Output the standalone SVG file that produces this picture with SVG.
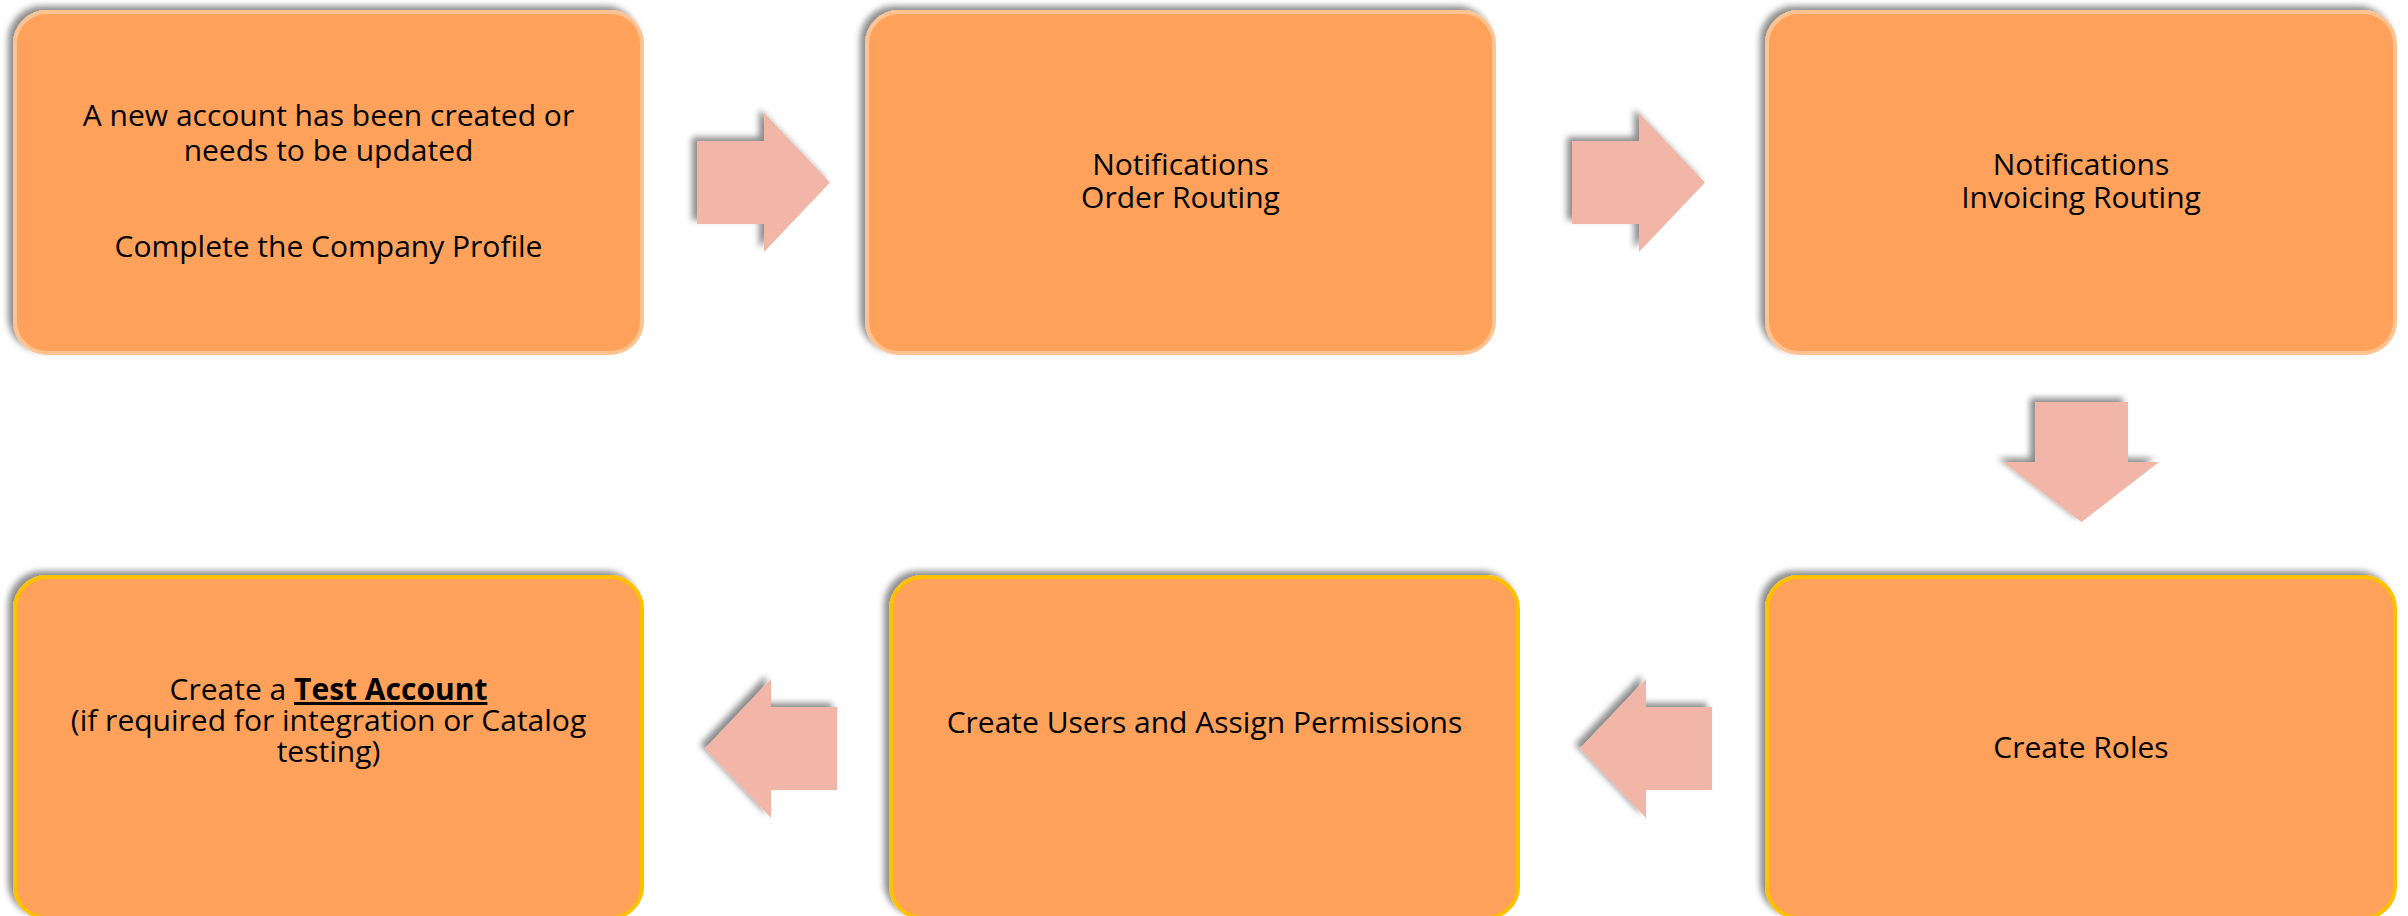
<svg xmlns="http://www.w3.org/2000/svg" width="2408" height="916" viewBox="0 0 2408 916">
  <style>
    .box { fill: #FEA15A; stroke-width: 4; }
    .top { stroke: #FFC391; }
    .bot { stroke: #FFC000; }
    .arrow { fill: #F1B6A7; }
    text { font-family: "Open Sans", "Liberation Sans", sans-serif; font-size: 30px; fill: #000; text-anchor: middle; }
  </style>
  <defs>
    <filter id="sh" x="-10%" y="-10%" width="120%" height="120%">
      <feGaussianBlur in="SourceAlpha" stdDeviation="3"/>
      <feOffset dx="-5" dy="-4" result="b"/>
      <feFlood flood-color="#000" flood-opacity="0.45"/>
      <feComposite in2="b" operator="in"/>
      <feMerge><feMergeNode/><feMergeNode in="SourceGraphic"/></feMerge>
    </filter>
  </defs>
  <rect width="2408" height="916" fill="#fff"/>

  <g id="node-new-account">
    <rect class="box top" x="15" y="12" width="627" height="341" rx="32" filter="url(#sh)"/>
    <text x="328.5" y="126">A new account has been created or</text>
    <text x="328.5" y="161">needs to be updated</text>
    <text x="328.5" y="257">Complete the Company Profile</text>
  </g>

  <g id="node-order-routing">
    <rect class="box top" x="867" y="12" width="627" height="341" rx="32" filter="url(#sh)"/>
    <text x="1180.5" y="175">Notifications</text>
    <text x="1180.5" y="208">Order Routing</text>
  </g>

  <g id="node-invoicing-routing">
    <rect class="box top" x="1767" y="12" width="628" height="341" rx="32" filter="url(#sh)"/>
    <text x="2081" y="175">Notifications</text>
    <text x="2081" y="208">Invoicing Routing</text>
  </g>

  <g id="node-create-roles">
    <rect class="box bot" x="1767" y="577" width="628" height="341" rx="32" filter="url(#sh)"/>
    <text x="2081" y="758">Create Roles</text>
  </g>

  <g id="node-create-users">
    <rect class="box bot" x="891" y="577" width="627" height="341" rx="32" filter="url(#sh)"/>
    <text x="1204.5" y="733">Create Users and Assign Permissions</text>
  </g>

  <g id="node-test-account">
    <rect class="box bot" x="15" y="577" width="627" height="341" rx="32" filter="url(#sh)"/>
    <text x="328.5" y="700">Create a <tspan font-weight="bold" text-decoration="underline">Test Account</tspan></text>
    <text x="328.5" y="731">(if required for integration or Catalog</text>
    <text x="328.5" y="762">testing)</text>
  </g>

  <g id="connectors">
    <polygon class="arrow" filter="url(#sh)" points="697,141 764,141 764,113 830,182.5 764,252 764,224 697,224"/>
    <polygon class="arrow" filter="url(#sh)" points="1572,141 1639,141 1639,113 1705,182.5 1639,252 1639,224 1572,224"/>
    <polygon class="arrow" filter="url(#sh)" points="2035,402 2128,402 2128,462 2159,462 2081.5,522 2003,462 2035,462"/>
    <polygon class="arrow" filter="url(#sh)" points="1712,707 1646,707 1646,679 1580,748.5 1646,818 1646,790 1712,790"/>
    <polygon class="arrow" filter="url(#sh)" points="837,707 771,707 771,679 705,748.5 771,818 771,790 837,790"/>
  </g>
</svg>
